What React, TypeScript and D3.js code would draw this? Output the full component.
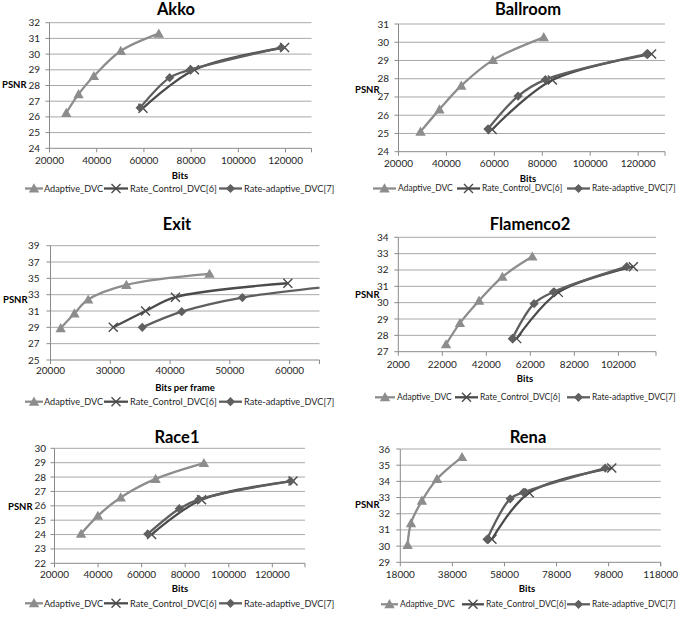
import React from 'react';
import * as d3 from 'd3';

type Pt = [number, number];

// ---------- Data ----------
const seriesNames = ['Adaptive_DVC', 'Rate_Control_DVC[6]', 'Rate-adaptive_DVC[7]'];

const akkoAdaptive: Pt[] = [[27100, 26.25], [32300, 27.45], [38800, 28.6], [50200, 30.2], [66300, 31.3]];
const akkoRateControl: Pt[] = [[59600, 26.55], [81400, 29.0], [119600, 30.42]];
const akkoRateAdaptive: Pt[] = [[58400, 26.58], [70900, 28.5], [79600, 29.0], [118200, 30.42]];
const akkoXTicks = [20000, 40000, 60000, 80000, 100000, 120000];
const akkoYTicks = [24, 25, 26, 27, 28, 29, 30, 31, 32];

const ballroomAdaptive: Pt[] = [[29200, 25.1], [37100, 26.32], [46200, 27.62], [59400, 29.02], [80600, 30.27]];
const ballroomRateControl: Pt[] = [[59100, 25.22], [84200, 27.93], [125600, 29.35]];
const ballroomRateAdaptive: Pt[] = [[57300, 25.24], [69900, 27.05], [81300, 27.95], [123500, 29.35]];
const ballroomXTicks = [20000, 40000, 60000, 80000, 100000, 120000];
const ballroomYTicks = [24, 25, 26, 27, 28, 29, 30, 31];

const exitAdaptive: Pt[] = [[21700, 28.9], [24000, 30.7], [26300, 32.4], [32700, 34.2], [46600, 35.55]];
const exitRateControl: Pt[] = [[30500, 29.0], [35900, 31.0], [40900, 32.7], [59700, 34.4]];
const exitRateAdaptive: Pt[] = [[35350, 29.0], [41950, 30.92], [52100, 32.65], [71000, 34.3]];
const exitXTicks = [20000, 30000, 40000, 50000, 60000];
const exitYTicks = [25, 27, 29, 31, 33, 35, 37, 39];

const flamencoAdaptive: Pt[] = [[23700, 27.45], [30000, 28.75], [38700, 30.12], [49300, 31.58], [62900, 32.82]];
const flamencoRateControl: Pt[] = [[55800, 27.8], [74700, 30.63], [108800, 32.2]];
const flamencoRateAdaptive: Pt[] = [[53800, 27.8], [63700, 29.94], [72500, 30.65], [105800, 32.2]];
const flamencoXTicks = [2000, 22000, 42000, 62000, 82000, 102000];
const flamencoYTicks = [27, 28, 29, 30, 31, 32, 33, 34];

const race1Adaptive: Pt[] = [[32200, 24.05], [39900, 25.3], [50400, 26.58], [66400, 27.87], [88600, 28.97]];
const race1RateControl: Pt[] = [[64600, 24.0], [87500, 26.42], [129500, 27.72]];
const race1RateAdaptive: Pt[] = [[62800, 24.04], [77300, 25.8], [86300, 26.45], [128400, 27.72]];
const race1XTicks = [20000, 40000, 60000, 80000, 100000, 120000];
const race1YTicks = [22, 23, 24, 25, 26, 27, 28, 29, 30];

const renaAdaptive: Pt[] = [[20800, 30.07], [22100, 31.42], [26300, 32.8], [32100, 34.15], [41700, 35.5]];
const renaRateControl: Pt[] = [[53200, 30.42], [67500, 33.3], [99200, 34.82]];
const renaRateAdaptive: Pt[] = [[51300, 30.42], [60200, 32.92], [65300, 33.32], [96700, 34.82]];
const renaXTicks = [18000, 38000, 58000, 78000, 98000, 118000];
const renaYTicks = [29, 30, 31, 32, 33, 34, 35, 36];

// ---------- Styles ----------
const FONT = "Lato, 'Open Sans', sans-serif";
const seriesStyles = [
  { color: '#8d8d8d', marker: 'triangle' },
  { color: '#4b4b4b', marker: 'x' },
  { color: '#5f5f5f', marker: 'diamond' },
];

// [sampleStart, sampleEnd, textStart]
const legendLeft = [[25, 43, 44], [104, 128, 130], [219, 242, 244]];

const panels = [
  {
    title: 'Akko', xLabel: 'Bits', series: [akkoAdaptive, akkoRateControl, akkoRateAdaptive],
    xTicks: akkoXTicks, yTicks: akkoYTicks, xDomain: [20000, 131000],
    l: 49.5, r: 311.5, t: 22.7, b: 148.3, titleX: 176, titleY: 14.5, yLabRight: 40, xLabY: 164,
    axLabX: 180, axLabY: 178.5, psnrX: 2, psnrY: 88, legY: 188.5, leg: legendLeft, legFs: 9.2,
  },
  {
    title: 'Ballroom', xLabel: 'Bits', series: [ballroomAdaptive, ballroomRateControl, ballroomRateAdaptive],
    xTicks: ballroomXTicks, yTicks: ballroomYTicks, xDomain: [20000, 131200],
    l: 398.5, r: 665, t: 24, b: 151.7, titleX: 528, titleY: 14.5, yLabRight: 389, xLabY: 167,
    axLabX: 528, axLabY: 182, psnrX: 355, psnrY: 92.5, legY: 188.5, legFs: 8.5,
    leg: [[373, 396, 398], [457, 480, 482], [567, 590, 592]],
  },
  {
    title: 'Exit', xLabel: 'Bits per frame', series: [exitAdaptive, exitRateControl, exitRateAdaptive],
    xTicks: exitXTicks, yTicks: exitYTicks, xDomain: [20000, 65000],
    l: 50.5, r: 319.5, t: 245.7, b: 360, titleX: 177, titleY: 230, yLabRight: 39.5, xLabY: 373.5,
    axLabX: 185, axLabY: 391, psnrX: 3, psnrY: 302.5, legY: 401.7, leg: legendLeft, legFs: 9.2,
  },
  {
    title: 'Flamenco2', xLabel: 'Bits', series: [flamencoAdaptive, flamencoRateControl, flamencoRateAdaptive],
    xTicks: flamencoXTicks, yTicks: flamencoYTicks, xDomain: [2000, 119100],
    l: 398.3, r: 656, t: 237.3, b: 351.7, titleX: 530, titleY: 229.5, yLabRight: 388.5, xLabY: 367.5,
    axLabX: 525, axLabY: 381.5, psnrX: 355, psnrY: 298, legY: 397.3, legFs: 8.5,
    leg: [[375, 395, 397], [455, 478, 480], [567, 590, 592]],
  },
  {
    title: 'Race1', xLabel: 'Bits', series: [race1Adaptive, race1RateControl, race1RateAdaptive],
    xTicks: race1XTicks, yTicks: race1YTicks, xDomain: [20000, 135000],
    l: 54.5, r: 305, t: 448.3, b: 563.3, titleX: 177, titleY: 443, yLabRight: 46, xLabY: 577.5,
    axLabX: 180, axLabY: 592, psnrX: 8, psnrY: 510, legY: 603.3, leg: legendLeft, legFs: 9.2,
  },
  {
    title: 'Rena', xLabel: 'Bits', series: [renaAdaptive, renaRateControl, renaRateAdaptive],
    xTicks: renaXTicks, yTicks: renaYTicks, xDomain: [18000, 118000],
    l: 400.3, r: 660.7, t: 449, b: 562.3, titleX: 528, titleY: 443, yLabRight: 390, xLabY: 578,
    axLabX: 527, axLabY: 591.5, psnrX: 355, psnrY: 507.5, legY: 604.3, legFs: 8.5,
    leg: [[381, 398, 400], [462, 484, 486], [567, 590, 592]],
  },
];

function Marker({ kind, x, y, color }: { kind: string; x: number; y: number; color: string }) {
  if (kind === 'triangle') {
    return <path d={`M${x},${y - 5.2} L${x + 5.2},${y + 4} L${x - 5.2},${y + 4} Z`} fill={color} />;
  }
  if (kind === 'diamond') {
    return <path d={`M${x},${y - 4.6} L${x + 4.6},${y} L${x},${y + 4.6} L${x - 4.6},${y} Z`} fill={color} />;
  }
  const s = 4.5;
  return (
    <path d={`M${x - s},${y - s} L${x + s},${y + s} M${x - s},${y + s} L${x + s},${y - s}`}
      stroke={color} strokeWidth={1.4} fill="none" />
  );
}

function Panel({ p, idx }: { p: any; idx: number }) {
  const x = d3.scaleLinear().domain(p.xDomain).range([p.l, p.r]);
  const yMin = p.yTicks[0];
  const yMax = p.yTicks[p.yTicks.length - 1];
  const y = d3.scaleLinear().domain([yMin, yMax]).range([p.b, p.t]);
  const line = d3.line<Pt>().x(d => x(d[0])).y(d => y(d[1])).curve(d3.curveCatmullRom.alpha(0.5));
  const clipId = `clip-${idx}`;
  return (
    <g>
      <defs>
        <clipPath id={clipId}>
          <rect x={p.l} y={p.t - 12} width={p.r - p.l} height={p.b - p.t + 24} />
        </clipPath>
      </defs>
      <text x={p.titleX} y={p.titleY} textAnchor="middle" fontFamily={FONT} fontWeight="bold"
        fontSize={16.5} fill="#000">{p.title}</text>
      {p.yTicks.map((v: number) => (
        <g key={'y' + v}>
          {v !== yMin && <line x1={p.l} x2={p.r} y1={y(v)} y2={y(v)} stroke="#a9a9a9" strokeWidth={1} />}
          <line x1={p.l - 4} x2={p.l} y1={y(v)} y2={y(v)} stroke="#8a8a8a" strokeWidth={1} />
          <text x={p.yLabRight} y={y(v)} dy="0.35em" textAnchor="end" fontFamily={FONT}
            fontSize={10} fill="#262626">{v}</text>
        </g>
      ))}
      <line x1={p.l} x2={p.l} y1={p.t} y2={p.b} stroke="#8a8a8a" strokeWidth={1} />
      <line x1={p.l} x2={p.r} y1={p.b} y2={p.b} stroke="#8a8a8a" strokeWidth={1} />
      {p.xTicks.map((v: number) => (
        <g key={'x' + v}>
          <line x1={x(v)} x2={x(v)} y1={p.b} y2={p.b + 4} stroke="#8a8a8a" strokeWidth={1} />
          <text x={x(v)} y={p.xLabY} textAnchor="middle" fontFamily={FONT} fontSize={10} fill="#262626">{v}</text>
        </g>
      ))}
      <line x1={p.r} x2={p.r} y1={p.b} y2={p.b + 4} stroke="#8a8a8a" strokeWidth={1} />
      <text x={p.axLabX} y={p.axLabY} textAnchor="middle" fontFamily={FONT} fontWeight="bold"
        fontSize={9.5} fill="#000">{p.xLabel}</text>
      <text x={p.psnrX} y={p.psnrY} fontFamily={FONT} fontWeight="bold" fontSize={9.5} fill="#000">PSNR</text>
      <g clipPath={`url(#${clipId})`}>
        {p.series.map((s: Pt[], i: number) => (
          <g key={'s' + i}>
            <path d={line(s) || ''} fill="none" stroke={seriesStyles[i].color} strokeWidth={2.3} />
            {s.map((d, j) => (
              <Marker key={j} kind={seriesStyles[i].marker} x={x(d[0])} y={y(d[1])} color={seriesStyles[i].color} />
            ))}
          </g>
        ))}
      </g>
      {p.leg.map((l: number[], i: number) => (
        <g key={'l' + i}>
          <line x1={l[0]} x2={l[1]} y1={p.legY} y2={p.legY} stroke={seriesStyles[i].color} strokeWidth={2.3} />
          <Marker kind={seriesStyles[i].marker} x={(l[0] + l[1]) / 2} y={p.legY} color={seriesStyles[i].color} />
          <text x={l[2]} y={p.legY} dy="0.35em" fontFamily={FONT} fontSize={p.legFs} fill="#1f1f1f">
            {seriesNames[i]}
          </text>
        </g>
      ))}
    </g>
  );
}

export default function App() {
  return (
    <div style={{ position: 'absolute', left: 0, top: 0 }}>
      <svg width={685} height={618} style={{ display: 'block', background: '#fff' }}>
        <rect x={0} y={0} width={685} height={618} fill="#fff" />
        {panels.map((p, i) => <Panel key={p.title} p={p} idx={i} />)}
      </svg>
    </div>
  );
}
